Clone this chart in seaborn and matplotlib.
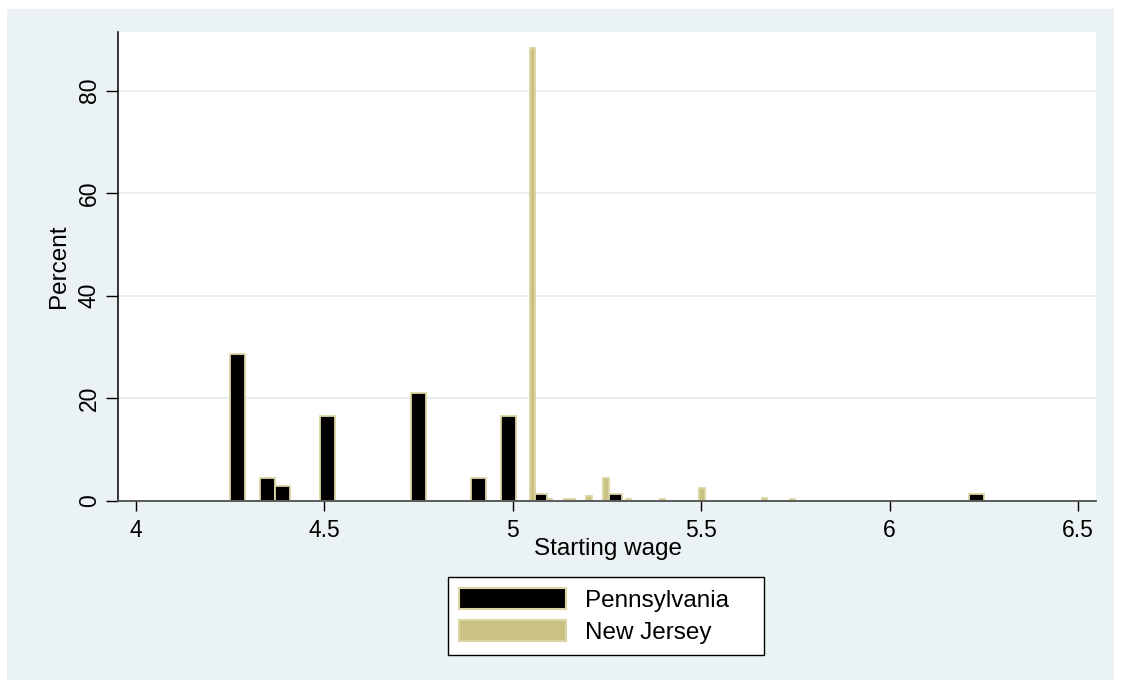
import numpy as np
import pandas as pd
import matplotlib
matplotlib.use("Agg")
import matplotlib.pyplot as plt
import matplotlib.patches as mpatches
import seaborn as sns

# ---------------- data ----------------
states = ["Pennsylvania", "New Jersey"]

# Pennsylvania: starting wages (bin centres) and percent of stores
pa_wage = [4.27, 4.35, 4.39, 4.51, 4.75, 4.91, 4.99, 5.07, 5.27, 6.23]
pa_pct = [28.6, 4.4, 2.9, 16.5, 21.1, 4.4, 16.5, 1.4, 1.4, 1.4]
pa_range = (4.25, 6.25)

# New Jersey: starting wages (bin centres) and percent of stores
nj_wage = [5.0525, 5.0975, 5.1425, 5.1575, 5.2025, 5.2475, 5.3075,
           5.3975, 5.5025, 5.6675, 5.7425]
nj_pct = [88.3, 0.3, 0.3, 0.3, 0.9, 4.5, 0.3, 0.3, 2.4, 0.6, 0.3]
nj_range = (5.00, 5.75)

n_bins = 50

x_ticks = [4, 4.5, 5, 5.5, 6, 6.5]
x_tick_labels = ["4", "4.5", "5", "5.5", "6", "6.5"]
y_ticks = [0, 20, 40, 60, 80]
y_tick_labels = ["0", "20", "40", "60", "80"]

x_label = "Starting wage"
y_label = "Percent"

# ---------------- style ----------------
sns.set_style("white")
plt.rcParams["font.family"] = ["Liberation Sans", "DejaVu Sans"]
plt.rcParams["text.color"] = "black"
plt.rcParams["axes.labelcolor"] = "black"
plt.rcParams["xtick.color"] = "black"
plt.rcParams["ytick.color"] = "black"

PANEL = "#EAF2F3"
KHAKI = "#C9C283"
KHAKI_EDGE = "#DAD5A2"

W, H = 1121, 682
fig = plt.figure(figsize=(W / 100, H / 100), dpi=100)
fig.patch.set_facecolor("white")
fig.add_artist(mpatches.Rectangle((7 / W, 1 - 680 / H), (1114 - 7) / W, (680 - 9) / H,
                                  transform=fig.transFigure, facecolor=PANEL,
                                  edgecolor="none", zorder=0))

ax_l, ax_r, ax_t, ax_b = 118, 1096, 32, 500.7
ax = fig.add_axes([ax_l / W, 1 - ax_b / H, (ax_r - ax_l) / W, (ax_b - ax_t) / H])
ax.set_facecolor("white")

pa_df = pd.DataFrame({"wage": pa_wage, "pct": pa_pct})
nj_df = pd.DataFrame({"wage": nj_wage, "pct": nj_pct})

sns.histplot(data=pa_df, x="wage", weights="pct", bins=n_bins, binrange=pa_range,
             color="black", edgecolor=KHAKI_EDGE, linewidth=1.3, alpha=1, ax=ax)
sns.histplot(data=nj_df, x="wage", weights="pct", bins=n_bins, binrange=nj_range,
             color=KHAKI, edgecolor=KHAKI_EDGE, linewidth=1.3, alpha=1, ax=ax)
for p in list(ax.patches):
    if p.get_height() == 0:
        p.remove()

ax.set_xlim(3.9531, 6.5472)
ax.set_ylim(0, 91.45)

ax.set_xticks(x_ticks)
ax.set_xticklabels(x_tick_labels)
ax.set_yticks(y_ticks)
ax.set_yticklabels(y_tick_labels, rotation=90, va="center")

ax.yaxis.grid(True, color="#E6EEF1", linewidth=1.4)
ax.xaxis.grid(False)
ax.set_axisbelow(True)

for s in ["top", "right"]:
    ax.spines[s].set_visible(False)
ax.spines["left"].set_color("black")
ax.spines["left"].set_linewidth(1.1)
ax.spines["bottom"].set_color("#505050")
ax.spines["bottom"].set_linewidth(1.3)

ax.tick_params(axis="x", direction="out", length=7.2, width=1, pad=6,
               labelsize=16.5, colors="black", bottom=True)
ax.tick_params(axis="y", direction="out", length=8.5, width=1, pad=4,
               labelsize=16.5, colors="black", left=True)

ax.set_xlabel(x_label, fontsize=17.5, color="black")
ax.set_ylabel(y_label, fontsize=17.5, color="black")
ax.xaxis.set_label_coords(0.501, -(538 - ax_b) / (ax_b - ax_t))
ax.yaxis.set_label_coords((70 - ax_l) / (ax_r - ax_l), 0.501)

handles = [
    mpatches.Patch(facecolor="black", edgecolor=KHAKI_EDGE, linewidth=1.5, label=states[0]),
    mpatches.Patch(facecolor=KHAKI, edgecolor=KHAKI_EDGE, linewidth=1.5, label=states[1]),
]
lx0, lx1, ly0, ly1 = 447.7, 764.3, 578.3, 653.3
leg = fig.legend(handles=handles, loc="center",
                 bbox_to_anchor=(lx0 / W, 1 - ly1 / H, (lx1 - lx0) / W, (ly1 - ly0) / H),
                 mode="expand",
                 fontsize=17.5, frameon=True, fancybox=False, shadow=False,
                 framealpha=1, edgecolor="black", facecolor="white",
                 handlelength=4.4, handleheight=0.95, handletextpad=0.8,
                 labelspacing=0.35, borderpad=0.45, borderaxespad=0)
leg.get_frame().set_linewidth(1.0)
for t in leg.get_texts():
    t.set_color("black")

fig.savefig("out.png", dpi=100, facecolor="white")
